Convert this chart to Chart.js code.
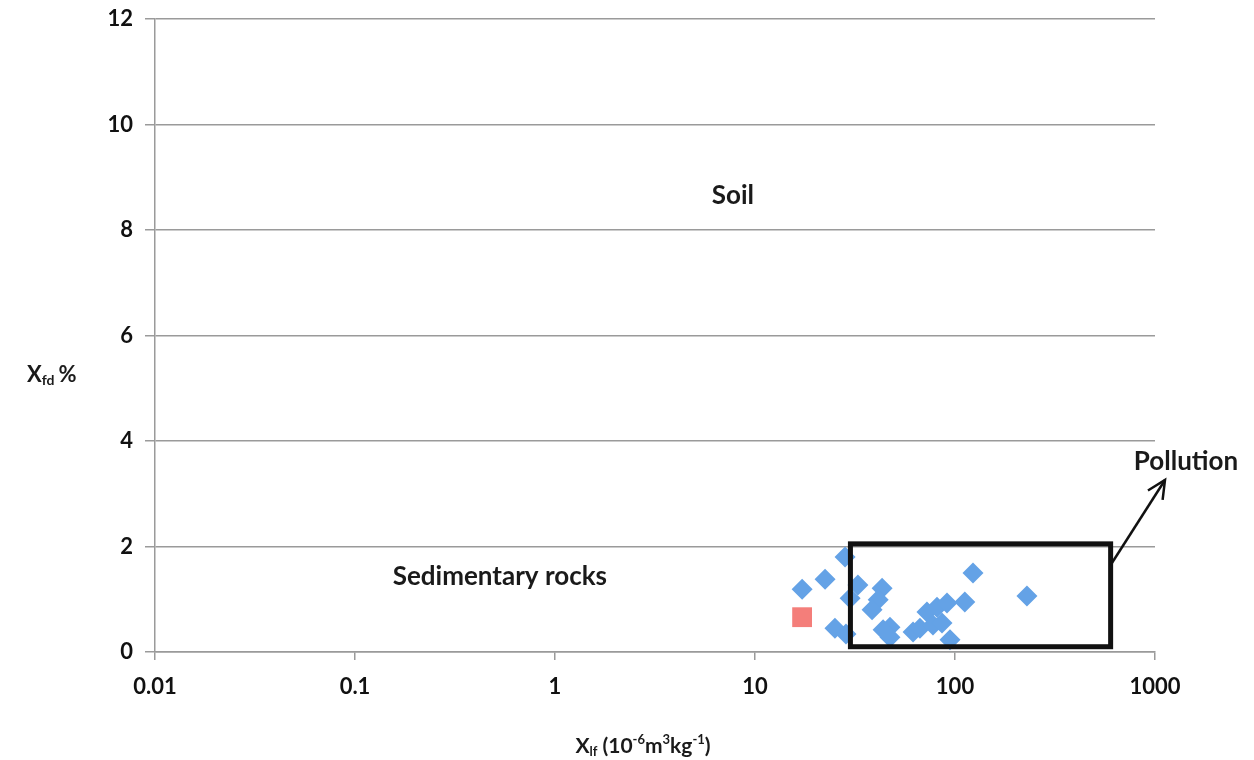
<!DOCTYPE html>
<html>
<head>
<meta charset="utf-8">
<script src="https://cdn.jsdelivr.net/npm/chart.js@4/dist/chart.umd.min.js"></script>
<style>
html,body{margin:0;padding:0;background:#fff;}
canvas{display:block;}
</style>
</head>
<body>
<canvas id="c" width="1254" height="760"></canvas>
<script>
// ---- data ----
const sampleXlf = [17.2, 22.4, 28.2, 25.1, 28.5, 29.9, 32.7, 43.2, 41.3, 38.5, 47.3, 43.7, 47.3, 61.7, 66.8, 72.4, 81.3, 91.2, 112, 77.6, 86.1, 94.4, 123, 229];
const sampleXfd = [1.19, 1.38, 1.80, 0.45, 0.34, 1.02, 1.27, 1.21, 0.99, 0.80, 0.47, 0.42, 0.28, 0.38, 0.45, 0.76, 0.85, 0.93, 0.95, 0.51, 0.55, 0.23, 1.50, 1.06];
const refXlf = [17.2];
const refXfd = [0.66];
const xTickValues = [0.01, 0.1, 1, 10, 100, 1000];
const xTickLabels = ['0.01', '0.1', '1', '10', '100', '1000'];
const yTickValues = [0, 2, 4, 6, 8, 10, 12];
const pollutionBox = {xMin: 30, xMax: 600, yMin: 0.1, yMax: 2.05};

const FONT = 'Lato, "Open Sans", sans-serif';

const overlay = {
  id: 'overlay',
  afterDatasetsDraw(chart) {
    const ctx = chart.ctx;
    const xs = chart.scales.x, ys = chart.scales.y;
    const px = v => xs.getPixelForValue(v);
    const py = v => ys.getPixelForValue(v);
    ctx.save();
    // pollution box
    ctx.strokeStyle = '#111';
    ctx.lineWidth = 5;
    ctx.strokeRect(px(pollutionBox.xMin), py(pollutionBox.yMax),
      px(pollutionBox.xMax) - px(pollutionBox.xMin), py(pollutionBox.yMin) - py(pollutionBox.yMax));
    // arrow
    const x0 = px(600), y0 = py(1.65), x1 = px(1122), y1 = py(3.26);
    ctx.lineWidth = 2.5;
    ctx.beginPath(); ctx.moveTo(x0, y0); ctx.lineTo(x1, y1); ctx.stroke();
    const ang = Math.atan2(y1 - y0, x1 - x0);
    const L = 20, spread = 0.45;
    ctx.beginPath();
    ctx.moveTo(x1 - L * Math.cos(ang - spread), y1 - L * Math.sin(ang - spread));
    ctx.lineTo(x1, y1);
    ctx.lineTo(x1 - L * Math.cos(ang + spread), y1 - L * Math.sin(ang + spread));
    ctx.stroke();
    // labels
    ctx.fillStyle = '#1a1a1a';
    ctx.textAlign = 'center';
    ctx.textBaseline = 'middle';
    ctx.font = 'bold 26px ' + FONT;
    ctx.fillText('Soil', px(7.76), py(8.66));
    ctx.fillText('Sedimentary rocks', px(0.53), py(1.42));
    ctx.font = 'bold 26px ' + FONT;
    ctx.fillText('Pollution', px(1429), py(3.6));
    // y axis title: Xfd %
    ctx.textAlign = 'left';
    ctx.textBaseline = 'alphabetic';
    let x = 27, base = 382;
    ctx.font = 'bold 22px ' + FONT;
    ctx.fillText('X', x, base); x += ctx.measureText('X').width;
    ctx.font = 'bold 14px ' + FONT;
    ctx.fillText('fd', x, base + 3); x += ctx.measureText('fd').width + 4;
    ctx.font = 'bold 22px ' + FONT;
    ctx.fillText('%', x, base);
    // x axis title: Xlf (10-6m3kg-1)
    const parts = [
      ['X', 'bold 21px', 0], ['lf', 'bold 13px', 3], [' (10', 'bold 21px', 0], ['-6', 'bold 13px', -9],
      ['m', 'bold 21px', 0], ['3', 'bold 13px', -9], ['kg', 'bold 21px', 0], ['-1', 'bold 13px', -9], [')', 'bold 21px', 0]
    ];
    let total = 0;
    parts.forEach(p => { ctx.font = p[1] + ' ' + FONT; total += ctx.measureText(p[0]).width; });
    x = 643 - total / 2; base = 753;
    parts.forEach(p => { ctx.font = p[1] + ' ' + FONT; ctx.fillText(p[0], x, base + p[2]); x += ctx.measureText(p[0]).width; });
    ctx.restore();
  }
};

new Chart(document.getElementById('c'), {
  type: 'scatter',
  data: {
    datasets: [
      {
        label: 'Samples',
        data: sampleXlf.map((v, i) => ({x: v, y: sampleXfd[i]})),
        pointStyle: 'rectRot',
        pointRadius: 10.5,
        pointHoverRadius: 10.5,
        backgroundColor: '#64a2e6',
        borderWidth: 0
      },
      {
        label: 'Reference',
        data: refXlf.map((v, i) => ({x: v, y: refXfd[i]})),
        pointStyle: 'rect',
        pointRadius: 14,
        pointHoverRadius: 14,
        backgroundColor: '#f47e7a',
        borderWidth: 0
      }
    ]
  },
  options: {
    responsive: false,
    devicePixelRatio: 1,
    animation: false,
    events: [],
    layout: {padding: {left: 0, right: 99, top: 19, bottom: 0}},
    plugins: {legend: {display: false}, tooltip: {enabled: false}},
    scales: {
      x: {
        type: 'logarithmic',
        min: 0.01, max: 1000,
        afterBuildTicks(scale) { scale.ticks = xTickValues.map(v => ({value: v})); },
        afterFit(scale) { scale.height = 108; scale.paddingLeft = 0; scale.paddingRight = 0; },
        ticks: {
          callback(value) { const i = xTickValues.indexOf(value); return i >= 0 ? xTickLabels[i] : ''; },
          font: {family: FONT, size: 22, weight: 'bold'},
          color: '#111',
          padding: 14,
          maxRotation: 0, autoSkip: false
        },
        grid: {drawOnChartArea: false, drawTicks: true, tickLength: 8, color: '#9a9a9a', lineWidth: 1.5},
        border: {display: true, color: '#9a9a9a', width: 1.5}
      },
      y: {
        min: 0, max: 12,
        afterBuildTicks(scale) { scale.ticks = yTickValues.map(v => ({value: v})); },
        afterFit(scale) { scale.width = 155; scale.paddingTop = 0; scale.paddingBottom = 0; },
        ticks: {
          font: {family: FONT, size: 22, weight: 'bold'},
          color: '#111',
          padding: 12
        },
        grid: {color: '#9a9a9a', lineWidth: 1.5, tickLength: 10, drawTicks: true},
        border: {display: true, color: '#9a9a9a', width: 1.5}
      }
    }
  },
  plugins: [overlay]
});
</script>
</body>
</html>
